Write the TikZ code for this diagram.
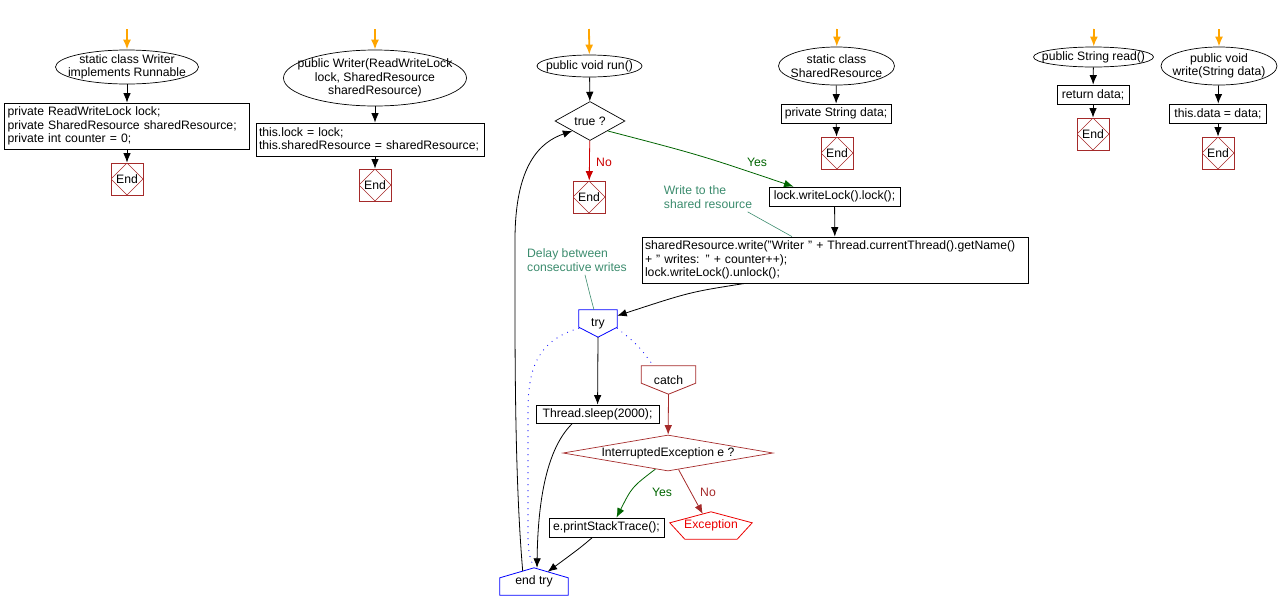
\documentclass[tikz,border=0pt]{standalone}
\usepackage{fontspec}
\setmainfont{Liberation Sans}
\usepackage{tikz}
\usetikzlibrary{shapes.geometric}
\usetikzlibrary{arrows.meta,calc}

\definecolor{endred}{RGB}{165,42,42}
\definecolor{nored}{RGB}{204,0,0}
\definecolor{exred}{RGB}{235,0,0}
\definecolor{yesgreen}{RGB}{0,100,0}
\definecolor{notegreen}{RGB}{60,140,110}
\definecolor{startorange}{RGB}{255,165,0}

\newcommand{\fsz}{\fontsize{12.2}{13.6}\selectfont}

\tikzset{
	headell/.style={draw, ellipse, inner sep=-14pt, align=center, line width=0.7pt},
	codebox/.style={draw, rectangle, inner sep=3pt, align=left, line width=0.8pt},
	decision/.style={draw, diamond, inner sep=-2pt, line width=0.7pt},
	endbox/.style={draw=endred, rectangle, minimum width=32pt, minimum height=32pt, inner sep=0pt, line width=0.8pt,
		path picture={\draw[endred, line width=0.6pt] (path picture bounding box.north) -- (path picture bounding box.east)
			-- (path picture bounding box.south) -- (path picture bounding box.west) -- cycle;}},
	flow/.style={->, line width=0.8pt},
	startflow/.style={-{Latex[length=10pt,width=8pt]}, draw=startorange, fill=startorange, line width=1.8pt},
	note/.style={text=notegreen, align=left},
	tryline/.style={blue, line width=1.2pt, line cap=round, dash pattern=on 0pt off 6pt}
}

\begin{document}
\begin{tikzpicture}[x=1pt, y=-1pt, font=\fsz, >={Latex[length=9.5pt,width=7.5pt]}]
	\useasboundingbox (0,0) rectangle (1279,614);
	
	% class Writer
	\coordinate (s1) at (127,29);
	\node (w1) at (127,67) [headell, minimum width=143pt, minimum height=34pt] {static class Writer\\implements Runnable};
	\node (b1) at (127,126) [codebox, text width=239pt, minimum height=46pt] {private ReadWriteLock lock;\\private SharedResource sharedResource;\\private int counter = 0;};
	\node (e1) at (127,179) [endbox] {End};
	\draw[startflow] (s1) -- (w1);
	\draw[flow] (w1) -- (b1);
	\draw[flow] (b1) -- (e1);
	
	% constructor
	\coordinate (s2) at (375,29);
	\node (w2) at (375,78) [headell, minimum width=183pt, minimum height=56pt] {public Writer(ReadWriteLock\\lock, SharedResource\\sharedResource)};
	\node (b2) at (370,139.5) [codebox, text width=222pt, minimum height=33pt] {this.lock = lock;\\this.sharedResource = sharedResource;};
	\node (e2) at (375,185) [endbox] {End};
	\draw[startflow] (s2) -- (w2);
	\draw[flow] (w2) -- (w2 |- b2.north);
	\draw[flow] (b2.south -| e2) -- (e2);
	
	% run()
	\coordinate (s3) at (589,29);
	\node (r) at (589.5,66) [headell, minimum width=105pt, minimum height=22pt] {public void run()};
	\node (t) at (590,121) [decision, minimum width=70pt, minimum height=39pt] {true ?};
	\node (e3) at (589,197) [endbox] {End};
	\node (no1) at (604,162) [text=nored] {No};
	\node (lk) at (834.5,196.5) [codebox, minimum width=131pt, minimum height=19pt] {lock.writeLock().lock();};
	\node (yes1) at (757,162) [text=yesgreen] {Yes};
	\node (sw) at (835,260) [codebox, text width=380pt, minimum height=46pt] {sharedResource.write("Writer " + Thread.currentThread().getName()\\+ " writes: " + counter++);\\lock.writeLock().unlock();};
	\node (cm1) at (708,197) [note] {Write to the\\shared resource};
	\node (cm2) at (577,260) [note] {Delay between\\consecutive writes};
	\node (try) at (598,323.5) [minimum width=38pt, minimum height=27pt, inner sep=0pt] {try};
	\node (sl) at (597.5,414) [codebox, minimum width=123pt, minimum height=18pt] {Thread.sleep(2000);};
	\node (ca) at (668.5,380) [minimum width=54pt, minimum height=28pt, inner sep=0pt] {catch};
	\node (ie) at (668,453) [decision, draw=endred, shape aspect=5.8, minimum width=210pt, minimum height=36pt] {InterruptedException e ?};
	\node (yes2) at (662,492) [text=yesgreen] {Yes};
	\node (no2) at (708,492) [text=endred] {No};
	\node (ep) at (606.5,527.5) [codebox, minimum width=115pt, minimum height=19pt] {e.printStackTrace();};
	\node (ex) at (711,525.5) [minimum width=82pt, minimum height=27pt, inner sep=0pt, text=exred] {Exception};
	\node (et) at (534,581.5) [minimum width=68pt, minimum height=27pt, inner sep=0pt] {end try};
	
	\draw[blue, line width=0.8pt] (try.north west) -- (try.north east) -- ([yshift=10pt]try.south east) -- (try.south) -- ([yshift=10pt]try.south west) -- cycle;
	\draw[endred, line width=0.8pt] (ca.north west) -- (ca.north east) -- ([yshift=11pt]ca.south east) -- (ca.south) -- ([yshift=11pt]ca.south west) -- cycle;
	\draw[exred, line width=0.8pt] (ex.north) -- ([yshift=-11pt]ex.north east) -- ([xshift=-15pt]ex.south east) -- ([xshift=15pt]ex.south west) -- ([yshift=-11pt]ex.north west) -- cycle;
	\draw[blue, line width=0.8pt] (et.south west) -- (et.south east) -- ([yshift=-10pt]et.north east) -- (et.north) -- ([yshift=-10pt]et.north west) -- cycle;
	
	\draw[startflow] (s3) -- (r);
	\draw[flow] (r) -- (t);
	\draw[flow, nored] (t) -- (e3);
	\draw[flow, yesgreen] (t.south east) .. controls (700,155) .. ([xshift=-41pt]lk.north);
	\draw[flow] (lk) -- (sw);
	\draw[notegreen, line width=0.6pt] ([xshift=-8pt]cm1.south east) -- ([xshift=-43pt]sw.north);
	\draw[notegreen, line width=0.6pt] ([xshift=8pt]cm2.south) .. controls (590,295) .. ([xshift=-4pt]try.north);
	\draw[flow] ([xshift=-90pt]sw.south) .. controls (690,292) .. ([yshift=-6pt]try.north east);
	\draw[flow] (try.south) -- (sl);
	\draw[tryline] ([yshift=9pt]try.south west) .. controls (540,340) and (528,365) .. (528,410) -- (528,540) .. controls (529,555) .. (et.north);
	\draw[tryline] ([yshift=9pt]try.south east) .. controls (638,345) .. ([xshift=-15pt]ca.north);
	\draw[flow, endred] (ca.south) -- (ie);
	\draw[flow, yesgreen] ($(ie.south)!0.12!(ie.west)$) .. controls (632,487) .. ([xshift=10pt]ep.north);
	\draw[flow, endred] ($(ie.south)!0.1!(ie.east)$) -- ($(ex.north)!0.2!([yshift=-11pt]ex.north west)$);
	\draw[flow] ([xshift=-25pt]sl.south) .. controls (550,445) and (538,490) .. ([xshift=3pt]et.north);
	\draw[flow] ([xshift=-14pt]ep.south) .. controls (580,548) .. ($(et.north)!0.4!([yshift=-10pt]et.north east)$);
	\draw[flow] ($(et.north)!0.33!([yshift=-10pt]et.north west)$) .. controls (514,470) and (515,330) .. (515,240)
		.. controls (515,165) and (540,142) .. (t.south west);
	
	% class SharedResource
	\coordinate (s4) at (837,29);
	\node (w4) at (836.5,66) [headell, minimum width=116pt, minimum height=38pt] {static class\\SharedResource};
	\node (b4) at (836,113.5) [codebox, minimum width=110pt, minimum height=19pt] {private String data;};
	\node (e4) at (837,153) [endbox] {End};
	\draw[startflow] (s4) -- (w4);
	\draw[flow] (w4) -- (b4);
	\draw[flow] (b4) -- (e4);
	
	% read()
	\coordinate (s5) at (1094,29);
	\node (w5) at (1093.5,57) [headell, minimum width=120pt, minimum height=20pt] {public String read()};
	\node (b5) at (1093,94.5) [codebox, minimum width=72pt, minimum height=19pt] {return data;};
	\node (e5) at (1093,134) [endbox] {End};
	\draw[startflow] (s5) -- (w5);
	\draw[flow] (w5) -- (b5);
	\draw[flow] (b5) -- (e5);
	
	% write()
	\coordinate (s6) at (1219,29);
	\node (w6) at (1219,66) [headell, minimum width=116pt, minimum height=38pt] {public void\\write(String data)};
	\node (b6) at (1218,113.5) [codebox, minimum width=97pt, minimum height=19pt] {this.data = data;};
	\node (e6) at (1218,153) [endbox] {End};
	\draw[startflow] (s6) -- (w6);
	\draw[flow] (w6) -- (b6);
	\draw[flow] (b6) -- (e6);
\end{tikzpicture}
\end{document}
